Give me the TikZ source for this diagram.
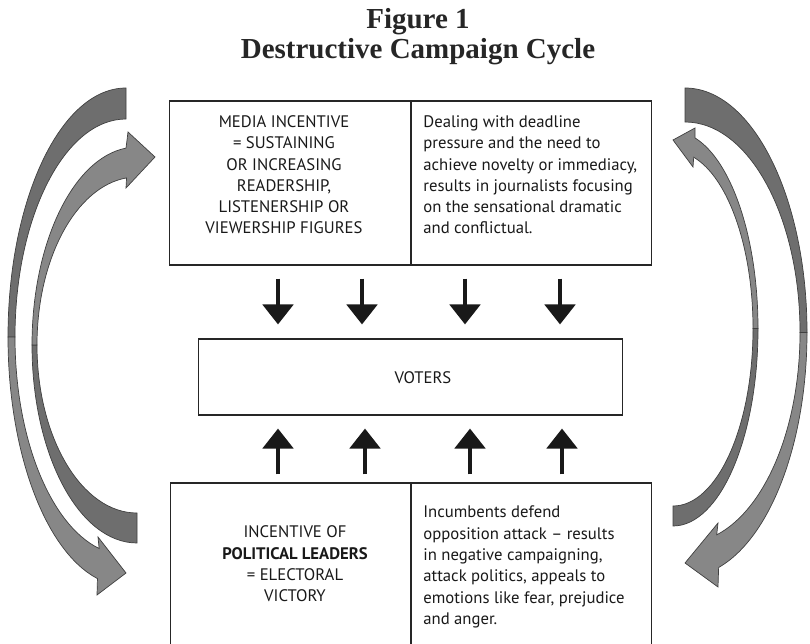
\documentclass[tikz,border=0pt]{standalone}
\usepackage{fontspec}
\setmainfont{Liberation Serif}
\newfontfamily\cellfont{PT Sans}
\usetikzlibrary{arrows.meta, calc}
\tikzset{
    titletext/.style={font=\bfseries\fontsize{16.5}{17.1}\selectfont, align=center, text=black!85},
    cellbox/.style={rectangle, draw=black!85, line width=0.6pt, inner sep=0pt},
    celltext/.style={font=\cellfont\fontsize{9.5}{12.1}\selectfont, align=center, inner sep=0pt, text=black!90},
    sidetext/.style={celltext, align=left, anchor=west},
    divider/.style={draw=black!85, line width=0.6pt},
    flowarrow/.style={line width=2.8pt, draw=black!90, -{Triangle[width=0.6cm, length=0.4cm]}},
    backband/.style={fill=black!57, draw=black!75, line width=0.4pt},
    frontband/.style={fill=black!47, draw=black!75, line width=0.4pt}
}

\begin{document}
\begin{tikzpicture}[x=0.02cm, y=-0.02cm]
    \useasboundingbox (0,0) rectangle (810,644);
    \clip (0,0) rectangle (810,644);

    % Title
    \node[titletext] (title) at (418,37) {Figure 1\\Destructive Campaign Cycle};

    % Boxes
    \node[cellbox, minimum width=9.66cm, minimum height=3.28cm] (media) at (410.5,183) {};
    \node[cellbox, minimum width=8.5cm, minimum height=1.52cm] (voters) at (410.5,377) {};
    \node[cellbox, minimum width=9.64cm, minimum height=3.34cm] (leaders) at (411,566.5) {};
    \draw[divider] (411,0 |- media.north) -- (411,0 |- media.south);
    \draw[divider] (411,0 |- leaders.north) -- (411,0 |- leaders.south);

    % Box texts
    \node[celltext] (mediatxt) at (284,175) {MEDIA INCENTIVE\\= SUSTAINING\\OR INCREASING\\READERSHIP,\\LISTENERSHIP OR\\VIEWERSHIP FIGURES};
    \node[sidetext] (presstxt) at (423,175) {Dealing with deadline\\pressure and the need to\\achieve novelty or immediacy,\\results in journalists focusing\\on the sensational dramatic\\and conflictual.};
    \node[celltext] (voterstxt) at (423,378) {VOTERS};
    \node[celltext] (leaderstxt) at (295,564) {INCENTIVE OF\\\textbf{POLITICAL LEADERS}\\= ELECTORAL\\VICTORY};
    \node[sidetext] (attacktxt) at (423,567) {Incumbents defend\\opposition attack – results\\in negative campaigning,\\attack politics, appeals to\\emotions like fear, prejudice\\and anger.};

    % Arrows into the voters box
    \foreach \x in {278,362,465,560}
        \draw[flowarrow, shorten <=0.26cm, shorten >=0.28cm] (\x,0 |- media.south) -- (\x,0 |- voters.north);
    \foreach \x in {278,365,470,562}
        \draw[flowarrow, shorten <=0.16cm, shorten >=0.26cm] (\x,0 |- leaders.north) -- (\x,0 |- voters.south);

    % Curved arrows, left side
    \coordinate (lo) at (126,337);
    \coordinate (li) at (137,345);
    \draw[backband] ($(lo)+(-90:118 and 249)$) arc[start angle=-90, end angle=-180, x radius=118, y radius=249]
        -- ($(lo)+(180:111 and 218)$) arc[start angle=180, end angle=270, x radius=111, y radius=218] -- cycle;
    \draw[frontband] ($(lo)+(180:118 and 249)$) arc[start angle=180, end angle=104, x radius=118, y radius=249]
        -- (97,595) -- (126,573) -- (98,537)
        -- ($(lo)+(104:111 and 218)$) arc[start angle=104, end angle=180, x radius=111, y radius=218] -- cycle;
    \draw[backband] ($(li)+(90:105 and 198)$) arc[start angle=90, end angle=180, x radius=105, y radius=198]
        -- ($(li)+(180:100 and 168)$) arc[start angle=180, end angle=90, x radius=100, y radius=168] -- cycle;
    \draw[frontband] ($(li)+(180:105 and 198)$) arc[start angle=180, end angle=264, x radius=105, y radius=198]
        -- (128,132) -- (155,157) -- (126,188)
        -- ($(li)+(264:100 and 168)$) arc[start angle=264, end angle=180, x radius=100, y radius=168] -- cycle;

    % Curved arrows, right side
    \coordinate (ro) at (685,332.5);
    \coordinate (ri) at (673,328.6);
    \draw[backband] ($(ro)+(-90:122 and 244.5)$) arc[start angle=-90, end angle=0, x radius=122, y radius=244.5]
        -- ($(ro)+(0:115 and 210.5)$) arc[start angle=0, end angle=-90, x radius=115, y radius=210.5] -- cycle;
    \draw[frontband] ($(ro)+(0:122 and 244.5)$) arc[start angle=0, end angle=74, x radius=122, y radius=244.5]
        -- (718,587) -- (685,563) -- (718,523)
        -- ($(ro)+(74:115 and 210.5)$) arc[start angle=74, end angle=0, x radius=115, y radius=210.5] -- cycle;
    \draw[backband] ($(ri)+(90:85 and 197.4)$) arc[start angle=90, end angle=0, x radius=85, y radius=197.4]
        -- ($(ri)+(0:80 and 177.4)$) arc[start angle=0, end angle=90, x radius=80, y radius=177.4] -- cycle;
    \draw[frontband] ($(ri)+(0:85 and 197.4)$) arc[start angle=0, end angle=-75, x radius=85, y radius=197.4]
        -- (695,128) -- (673,140) -- (693,167)
        -- ($(ri)+(-75:80 and 177.4)$) arc[start angle=-75, end angle=0, x radius=80, y radius=177.4] -- cycle;
\end{tikzpicture}
\end{document}
